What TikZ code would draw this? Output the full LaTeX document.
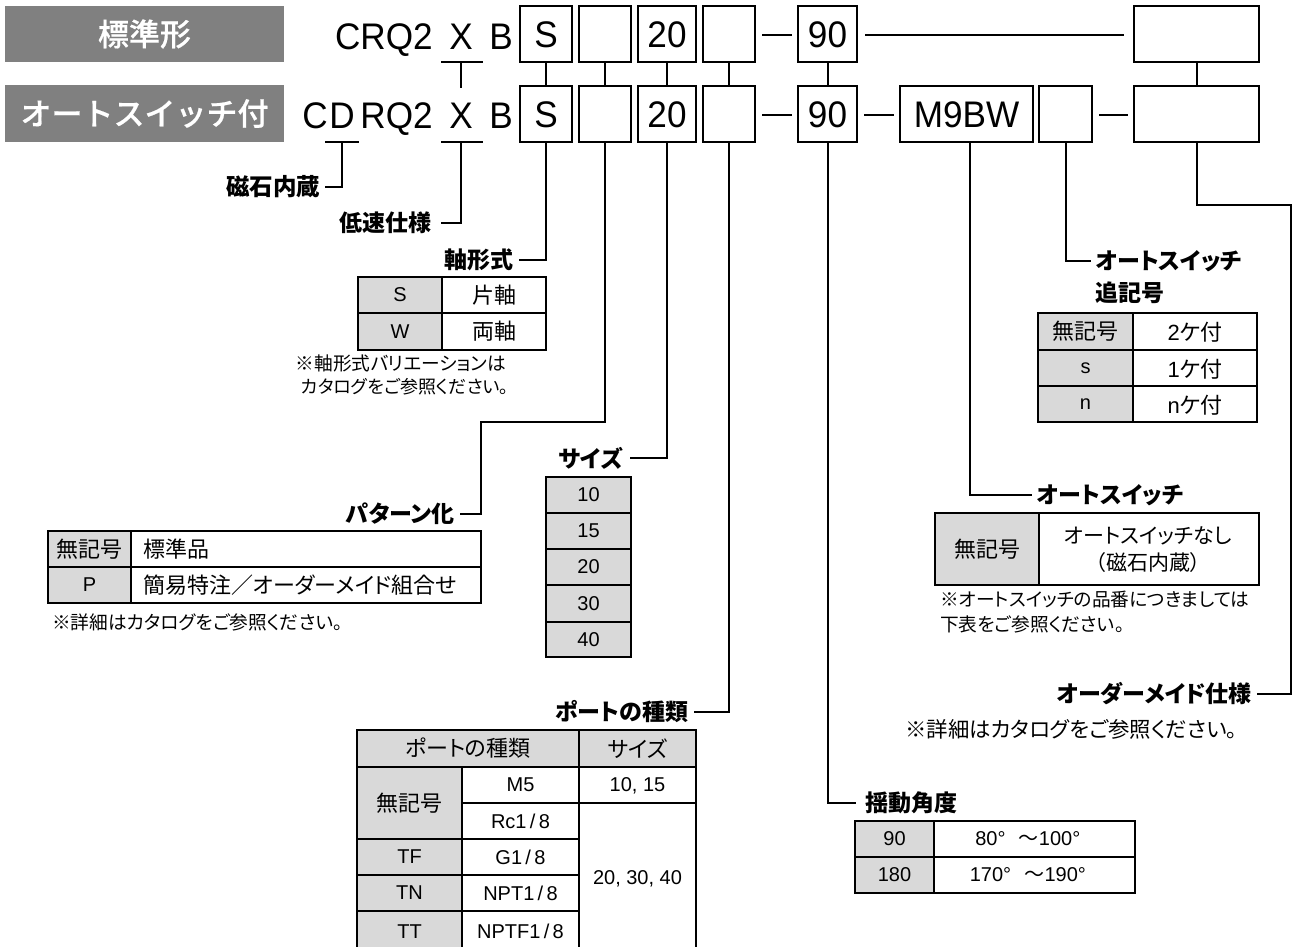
\documentclass[tikz,border=0pt]{standalone}
\usepackage{fontspec}
\setmainfont{Liberation Sans}
\newfontfamily\jp[RawFeature=+palt]{Noto Sans CJK JP}
\newfontfamily\jpm[FakeBold=0.6]{Noto Sans CJK JP Medium}
\newcommand\fs[1]{\fontsize{\the\dimexpr#1pt*3/4\relax}{\the\dimexpr#1pt*9/8\relax}\selectfont}
\newcommand\nw[1]{\scalebox{.95}[1]{#1}}
\newcommand\nwb[1]{\raisebox{-1.1pt}{\scalebox{.95}[1]{#1}}}
\newcommand\wsl{\kern2.5pt/\kern2.5pt}
\definecolor{cellgray}{HTML}{D9D9D9}
\definecolor{bannergray}{HTML}{808080}
\tikzset{
  x=0.75pt,y=-0.75pt,
  frame/.style={draw=black,line width=1.7pt,inner sep=0pt,outer sep=0pt},
  pbox/.style={frame,fill=white,font=\fs{37},text depth=0pt},
  gc/.style={fill=cellgray},
  banner/.style={fill=bannergray,text=white,inner sep=0pt,font=\fs{31}\jpm},
  big/.style={inner sep=0pt,font=\fs{37}},
  lab/.style={inner sep=0pt,font=\fs{23}\jp\bfseries},
  note/.style={inner sep=0pt,font=\fs{18.7}\jp},
  conn/.style={draw=black,line width=1.5pt,line cap=rect},
  thin/.style={draw=black,line width=1.1pt},
  dashl/.style={draw=black,line width=2.2pt},
  tj/.style={font=\fs{22}\jp},
  tl/.style={font=\fs{20},text depth=0pt},
  tm/.style={font=\fs{22},text depth=0pt},
}
% \rc[style]{name}{x1}{y1}{x2}{y2}{text}
\newcommand\rc[7][]{%
  \pgfmathsetmacro\rw{(#5-#3)*0.75}\pgfmathsetmacro\rh{(#6-#4)*0.75}%
  \pgfmathsetmacro\rx{(#3+#5)/2}\pgfmathsetmacro\ry{(#4+#6)/2}%
  \node[frame,minimum width=\rw pt,minimum height=\rh pt,#1] (#2) at (\rx,\ry) {#7};}
\begin{document}
\begin{tikzpicture}
\useasboundingbox (0,0) rectangle (1292,946);
\clip (0,0) rectangle (1292,946);
% banners
\rc[banner,draw=none]{ban1}{5}{6}{284}{62}{標準形}
\rc[banner,draw=none]{ban2}{5}{85}{284}{142}{オートスイッチ付}
% code letters
\node[big,anchor=base east] (crq) at (433,49) {\nw{CRQ2}};
\node[big,anchor=base] (x1) at (461,49) {\nw{X}};
\node[big,anchor=base] (b1) at (501,49) {\nw{B}};
\node[big,anchor=base] (c2) at (315,128.5) {\nw{C}};
\node[big,anchor=base] (d2) at (342,128.5) {\nw{D}};
\node[big,anchor=base east] (rq2) at (433,128.5) {\nw{RQ2}};
\node[big,anchor=base] (x2) at (461,128.5) {\nw{X}};
\node[big,anchor=base] (b2) at (501,128.5) {\nw{B}};
% top row boxes
\rc[pbox]{ts}{520}{6}{572}{62}{\nwb{S}}
\rc[pbox]{tp}{579}{6}{631}{62}{}
\rc[pbox]{tz}{638}{6}{696}{62}{\nwb{20}}
\rc[pbox]{tk}{703}{6}{755}{62}{}
\rc[pbox]{ta}{798}{6}{857}{62}{\nwb{90}}
\rc[pbox]{tr}{1134}{6}{1259}{62}{}
% second row boxes
\rc[pbox]{bs}{520}{86}{572}{142}{\nwb{S}}
\rc[pbox]{bp}{579}{86}{631}{142}{}
\rc[pbox]{bz}{638}{86}{696}{142}{\nwb{20}}
\rc[pbox]{bk}{703}{86}{755}{142}{}
\rc[pbox]{ba}{798}{86}{857}{142}{\nwb{90}}
\rc[pbox]{bm}{900}{86}{1033}{142}{\nwb{M9BW}}
\rc[pbox]{bn}{1039}{86}{1092}{142}{}
\rc[pbox]{br}{1134}{86}{1259}{142}{}
% dashes
\coordinate (d1a) at (762,35); \coordinate (d1b) at (792,35);
\coordinate (d2a) at (762,115); \coordinate (d2b) at (792,115);
\coordinate (d3a) at (864,115); \coordinate (d3b) at (894,115);
\coordinate (d4a) at (1099,115); \coordinate (d4b) at (1128,115);
\coordinate (la) at (865,35); \coordinate (lb) at (1124,35);
\draw[dashl] (d1a) -- (d1b);
\draw[dashl] (d2a) -- (d2b);
\draw[dashl] (d3a) -- (d3b);
\draw[dashl] (d4a) -- (d4b);
\draw[thin] (la) -- (lb);
% underlines
\coordinate (u1l) at (442,62); \coordinate (u1r) at (482,62);
\coordinate (u2l) at (442,142); \coordinate (u2r) at (482,142);
\coordinate (u3l) at (326,142); \coordinate (u3r) at (358,142);
\coordinate (u1m) at (461,62); \coordinate (u1e) at (461,87);
\coordinate (u2m) at (461,142); \coordinate (u3m) at (342,142);
\draw[conn] (u1l) -- (u1r);
\draw[conn] (u2l) -- (u2r);
\draw[conn] (u3l) -- (u3r);
\draw[conn] (u1m) -- (u1e);
% row to row
\draw[conn] (ts.south) -- (bs.north);
\draw[conn] (tp.south) -- (bp.north);
\draw[conn] (tz.south) -- (bz.north);
\draw[conn] (tk.south) -- (bk.north);
\draw[conn] (ta.south) -- (ba.north);
\draw[conn] (tr.south) -- (br.north);
% labels
\node[lab,anchor=east,inner xsep=4pt,font=\fs{23.5}\jp\bfseries] (lmag) at (326,187) {磁石内蔵};
\node[lab,anchor=east,inner xsep=8pt] (lspd) at (442,223) {低速仕様};
\node[lab,anchor=east,inner xsep=5pt] (lsft) at (520,260) {軸形式};
\node[lab,anchor=east,inner xsep=4.5pt] (lpat) at (461,514) {パターン化};
\node[lab,anchor=east,inner xsep=6pt] (lsiz) at (631,458) {サイズ};
\node[lab,anchor=east,inner xsep=5pt] (lprt) at (695,712) {ポートの種類};
\node[lab,anchor=west,inner xsep=4pt] (lsfx) at (1090,261) {オートスイッチ};
\node[lab,anchor=west] (lsfx2) at (1095,293) {追記号};
\node[lab,anchor=west,inner xsep=4.5pt] (lsw) at (1031,495) {オートスイッチ};
\node[lab,anchor=east,inner xsep=4.5pt] (lord) at (1258,694) {オーダーメイド仕様};
\node[lab,anchor=west,inner xsep=7.5pt] (lang) at (855,803) {揺動角度};
% connectors
\coordinate (ep) at (481,422);
\coordinate (er) at (1291,205);
\coordinate (mx) at (970,142);
\draw[conn] (u3m) |- (lmag.east);
\draw[conn] (u2m) |- (lspd.east);
\draw[conn] (bs.south) |- (lsft.east);
\draw[conn] (bp.south) |- (ep) |- (lpat.east);
\draw[conn] (bz.south) |- (lsiz.east);
\draw[conn] (bk.south) |- (lprt.east);
\draw[conn] (ba.south) |- (lang.west);
\draw[conn] (mx) |- (lsw.west);
\draw[conn] (bn.south) |- (lsfx.west);
\draw[conn] (br.south) |- (er) |- (lord.east);
% shaft table
\rc[gc,tl]{s1a}{358}{277}{442}{313}{S}
\rc[tj]{s1b}{442}{277}{546}{313}{片軸}
\rc[gc,tl]{s2a}{358}{313}{442}{350}{W}
\rc[tj]{s2b}{442}{313}{546}{350}{両軸}
\node[note,anchor=center] (n1) at (401,363) {※軸形式バリエーションは};
\node[note,anchor=center,font=\fs{18}\jp] (n2) at (405,387) {カタログをご参照ください。};
% pattern table
\rc[gc,tj]{p1a}{48}{531}{131}{567}{無記号}
\rc[tj,text width=326pt*3/4,align=left]{p1b}{131}{531}{481}{567}{標準品}
\rc[gc,tl]{p2a}{48}{567}{131}{603}{P}
\rc[tj,text width=326pt*3/4,align=left]{p2b}{131}{567}{481}{603}{簡易特注／オーダーメイド組合せ}
\node[note,anchor=west] (n3) at (52,622) {※詳細はカタログをご参照ください。};
% size table
\rc[gc,tl]{z1}{546}{477}{631}{513}{10}
\rc[gc,tl]{z2}{546}{513}{631}{549}{15}
\rc[gc,tl]{z3}{546}{549}{631}{585}{20}
\rc[gc,tl]{z4}{546}{585}{631}{622}{30}
\rc[gc,tl]{z5}{546}{622}{631}{657}{40}
% port table
\rc[gc,tj]{h1}{357}{730}{579}{767}{ポートの種類}
\rc[gc,tj]{h2}{579}{730}{696}{767}{サイズ}
\rc[gc,tj]{r1a}{357}{767}{462}{839}{無記号}
\rc[tl]{r1b}{462}{767}{579}{803}{M5}
\rc[tl]{r1c}{579}{767}{696}{803}{10, 15}
\rc[tl]{r2b}{462}{803}{579}{839}{Rc1\wsl 8}
\rc[gc,tl]{r3a}{357}{839}{462}{875}{TF}
\rc[tl]{r3b}{462}{839}{579}{875}{G1\wsl 8}
\rc[gc,tl]{r4a}{357}{875}{462}{911}{TN}
\rc[tl]{r4b}{462}{875}{579}{911}{NPT1\wsl 8}
\rc[gc,tl]{r5a}{357}{911}{462}{952}{TT}
\rc[tl]{r5b}{462}{911}{579}{952}{NPTF1\wsl 8}
\rc[tl]{r2c}{579}{803}{696}{952}{20, 30, 40}
% suffix table
\rc[gc,tj]{f1a}{1038}{313}{1133}{350}{無記号}
\rc[tm]{f1b}{1133}{313}{1257}{350}{2{\jp ケ付}}
\rc[gc,tl]{f2a}{1038}{350}{1133}{386}{s}
\rc[tm]{f2b}{1133}{350}{1257}{386}{1{\jp ケ付}}
\rc[gc,tl]{f3a}{1038}{386}{1133}{422}{n}
\rc[tm]{f3b}{1133}{386}{1257}{422}{n{\jp ケ付}}
% switch table
\rc[gc,tj]{w1}{935}{513}{1039}{585}{無記号}
\rc[tj]{w2}{1039}{513}{1259}{585}{}
\node[inner sep=0pt,font=\fs{21}\jp] (w2a) at (1148,536) {オートスイッチなし};
\node[inner sep=0pt,font=\fs{21}\jp] (w2b) at (1148,563) {（磁石内蔵）};
\node[note,anchor=west] (n4) at (940,600) {※オートスイッチの品番につきましては};
\node[note,anchor=west] (n5) at (940,624) {下表をご参照ください。};
\node[note,anchor=west,font=\fs{21.4}\jp] (n6) at (905,729) {※詳細はカタログをご参照ください。};
% angle table
\rc[gc,tl]{g1a}{855}{821}{934}{857}{90}
\rc[tl]{g1b}{934}{821}{1135}{857}{80°\kern10pt{\jp ～}100°\hspace*{10pt}}
\rc[gc,tl]{g2a}{855}{857}{934}{893}{180}
\rc[tl]{g2b}{934}{857}{1135}{893}{170°\kern10pt{\jp ～}190°\hspace*{10pt}}
\end{tikzpicture}
\end{document}
